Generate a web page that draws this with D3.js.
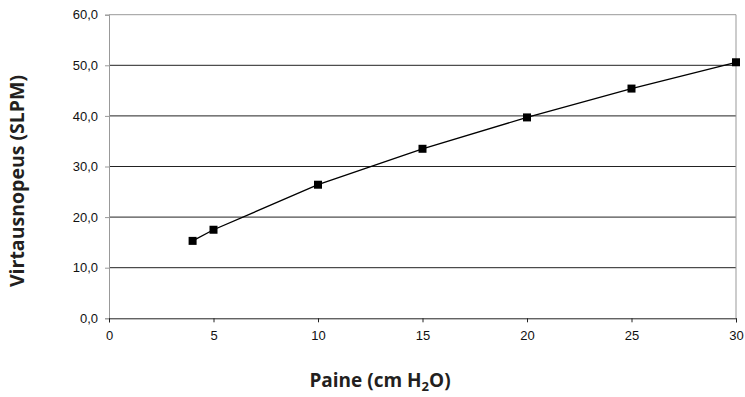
<!DOCTYPE html>
<html><head><meta charset="utf-8">
<script src="https://cdn.jsdelivr.net/npm/d3@7"></script>
<style>body{margin:0;background:#fff}</style>
</head><body>
<script>
const pressure = [4, 5, 10, 15, 20, 25, 30];
const flow = [15.3, 17.5, 26.4, 33.5, 39.7, 45.4, 50.6];
const xTicks = [0, 5, 10, 15, 20, 25, 30];
const yTicks = [0, 10, 20, 30, 40, 50, 60];
const yLabel = "Virtausnopeus (SLPM)";

const W = 745, H = 397;
const svg = d3.select("body").append("svg").attr("width", W).attr("height", H);
const x = d3.scaleLinear().domain([0, 30]).range([109, 736]);
const y = d3.scaleLinear().domain([0, 60]).range([318.3, 14.7]);
const fmt = v => d3.format(".1f")(v).replace(".", ",");

// gridlines
svg.append("g").selectAll("line").data(yTicks.filter(v => v > 0 && v < 60)).join("line")
  .attr("x1", x(0)).attr("x2", x(30)).attr("y1", d => y(d)).attr("y2", d => y(d))
  .attr("stroke", "#222").attr("stroke-width", 1);

// border top/right
svg.append("path").attr("d", `M${x(0)},${y(60)}H${x(30)}V${y(0)}`)
  .attr("fill", "none").attr("stroke", "#999").attr("stroke-width", 1);

// y axis
const ya = svg.append("g").attr("transform", `translate(${x(0)},0)`)
  .call(d3.axisLeft(y).tickValues(yTicks).tickFormat(fmt).tickSize(4).tickPadding(7));
ya.select(".domain").attr("stroke", "#999");
ya.selectAll(".tick line").attr("stroke", "#999");
ya.selectAll("text").attr("font-family", "Liberation Sans, Arial, sans-serif").attr("font-size", 13).attr("fill", "#111");

// x axis
const xa = svg.append("g").attr("transform", `translate(0,${y(0)})`)
  .call(d3.axisBottom(x).tickValues(xTicks).tickFormat(d3.format("d")).tickSize(4).tickPadding(8));
xa.select(".domain").attr("stroke", "#222");
xa.selectAll(".tick line").attr("stroke", "#222");
xa.selectAll("text").attr("font-family", "Liberation Sans, Arial, sans-serif").attr("font-size", 13).attr("fill", "#111");

// line
const pts = pressure.map((p, i) => [p, flow[i]]);
svg.append("path").datum(pts)
  .attr("d", d3.line().x(d => x(d[0])).y(d => y(d[1])))
  .attr("fill", "none").attr("stroke", "#000").attr("stroke-width", 1.3);

svg.append("g").selectAll("rect").data(pts).join("rect")
  .attr("x", d => x(d[0]) - 4).attr("y", d => y(d[1]) - 4)
  .attr("width", 8).attr("height", 8).attr("fill", "#000");

// titles
svg.append("text").attr("transform", "translate(24,181) rotate(-90)")
  .attr("text-anchor", "middle").attr("font-family", "Open Sans, sans-serif")
  .attr("font-weight", "bold").attr("font-size", 19.5).attr("fill", "#231f20")
  .text(yLabel);

const xt = svg.append("text").attr("x", 380).attr("y", 387)
  .attr("text-anchor", "middle").attr("font-family", "Open Sans, sans-serif")
  .attr("font-weight", "bold").attr("font-size", 19).attr("fill", "#231f20");
xt.append("tspan").text("Paine (cm H");
xt.append("tspan").attr("dy", 4).attr("font-size", 13).text("2");
xt.append("tspan").attr("dy", -4).text("O)");
</script>
</body></html>
